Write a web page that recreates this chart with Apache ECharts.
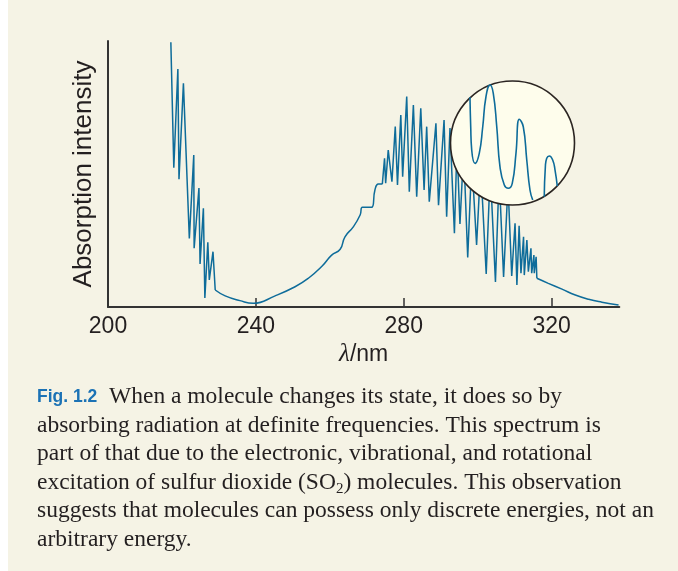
<!DOCTYPE html>
<html>
<head>
<meta charset="utf-8">
<script src="https://cdn.jsdelivr.net/npm/echarts@6/dist/echarts.min.js"></script>
<style>
  html, body { margin: 0; padding: 0; background: #fff; }
  #chart { width: 678px; height: 571px; }
</style>
</head>
<body>
<div id="chart"></div>
<script>
// SO2 absorption spectrum, [wavelength / nm, intensity 0-100]
const uvEdge = [
  [217.0, 99.5], [217.8, 52.4], [218.9, 89.5], [219.2, 48.0], [220.4, 84.1],
  [222.0, 25.8], [223.2, 57.1], [223.3, 22.1], [224.6, 44.7], [224.9, 16.2],
  [225.8, 37.1], [226.2, 3.4], [227.0, 24.3], [227.4, 10.2], [228.4, 20.8],
  [229.0, 6.4],
]
const valley = [
  [229.0, 6.4], [231.7, 4.2], [235.7, 2.4], [239.3, 1.4], [245.2, 4.2],
  [250.6, 7.6], [254.2, 10.8], [257.8, 15.2], [260.5, 19.5], [262.8, 21.7],
  [264.1, 26.4], [266.4, 30.2], [268.2, 34.6], [268.8, 37.5], [271.3, 37.5],
  [272.2, 44.0], [273.1, 46.2], [274.2, 46.2],
]
const band = [
  [274.2, 46.2], [274.8, 55.9], [275.1, 46.5], [275.8, 59.0], [276.8, 47.1],
  [277.7, 67.8], [278.3, 45.9], [279.2, 72.2], [279.7, 49.0], [280.8, 79.1],
  [281.5, 43.3], [282.6, 75.9], [283.5, 41.5], [284.6, 74.7], [285.5, 44.0],
  [286.2, 67.8], [286.9, 39.6], [288.7, 69.1], [289.4, 38.3], [290.9, 70.3],
  [291.6, 33.9], [292.5, 67.3], [293.7, 27.7], [294.4, 60.9], [295.2, 31.2],
  [296.2, 59.0], [297.3, 18.6], [298.4, 55.3], [299.7, 23.3], [300.8, 53.4],
  [302.3, 12.4], [303.4, 51.5], [304.8, 9.4], [305.8, 49.6], [307.0, 11.3],
  [308.2, 45.9], [309.2, 11.7], [310.1, 31.5], [310.6, 8.3], [311.2, 30.5],
  [311.7, 12.7], [312.4, 26.4], [312.6, 12.0], [313.3, 25.2], [313.7, 13.3],
  [314.4, 22.1], [314.6, 12.7], [315.2, 19.5], [315.3, 12.7], [315.8, 18.9],
  [316.0, 10.8],
]
const tail = [
  [316.0, 10.8], [319.1, 8.9], [322.8, 6.7], [326.4, 4.5], [330.0, 2.9],
  [333.6, 1.8], [338.1, 0.75],
]

// magnified detail shown in the circle, [u, v] on 0-100 inset scales
const zoomA = [
  [15.7, 86.9], [16.3, 63.1], [17.1, 44.4], [19.8, 33.6], [23.2, 41.7],
  [26.0, 63.1], [28.6, 87.3], [31.9, 96.8], [34.5, 90.1], [37.3, 63.1],
  [39.9, 30.9], [43.4, 16.1], [46.6, 13.5], [49.8, 17.5], [52.8, 41.7],
  [55.5, 69.1], [58.7, 63.1], [61.5, 36.3], [64.1, 12.1], [66.3, 4.0],
]
const zoomB = [
  [75.6, 6.7], [76.5, 30.9], [77.6, 37.7], [79.7, 39.5], [82.4, 36.3],
  [84.3, 28.2], [86.1, 15.3],
]

const xTicks = [200, 240, 280, 320]

const captionLines = [
  '{fig|Fig. 1.2}  When a molecule changes its state, it does so by',
  'absorbing radiation at definite frequencies. This spectrum is',
  'part of that due to the electronic, vibrational, and rotational',
  'excitation of sulfur dioxide (SO{sub|2}) molecules. This observation',
  'suggests that molecules can possess only discrete energies, not an',
  'arbitrary energy.',
]

const INK = '#231f20'
const BLUE = '#0e6c9a'
const SANS = '"Liberation Sans", Arial, sans-serif'
const SERIF = '"Liberation Serif", "Times New Roman", serif'

function trace(data, smooth) {
  return {
    type: 'line', data, smooth, symbol: 'none', clip: false, z: 2,
    lineStyle: { color: BLUE, width: 1.5 },
  }
}

function insetTrace(data) {
  return {
    type: 'line', data, smooth: true, symbol: 'none', clip: false, z: 20,
    xAxisIndex: 1, yAxisIndex: 1,
    lineStyle: { color: BLUE, width: 1.6 },
  }
}

const chart = echarts.init(document.getElementById('chart'))
chart.setOption({
  animation: false,
  backgroundColor: '#f5f3e5',
  title: {
    left: 37, top: 383, padding: 0,
    text: captionLines.join('\n'),
    textStyle: {
      fontFamily: SERIF, fontSize: 23.5, fontWeight: 'normal',
      color: INK, lineHeight: 28.5,
      rich: {
        fig: {
          fontFamily: SANS, fontWeight: 'bold', fontSize: 17.5,
          color: '#1b72b5', lineHeight: 28.5,
        },
        sub: {
          fontFamily: SERIF, fontSize: 15, color: INK,
          verticalAlign: 'bottom', lineHeight: 24,
        },
      },
    },
  },
  grid: [
    { left: 108, top: 41, width: 511.3, height: 266, outerBoundsMode: 'none' },
    { left: 450.5, top: 81, width: 124, height: 124, outerBoundsMode: 'none' },
  ],
  xAxis: [
    {
      type: 'value', min: 200, max: 338.3, interval: 40,
      splitLine: { show: false },
      axisLine: { lineStyle: { color: '#333', width: 2 } },
      axisTick: { inside: true, length: 9, customValues: xTicks, lineStyle: { color: '#333', width: 1.5 } },
      axisLabel: { customValues: xTicks, fontFamily: SANS, fontSize: 23, color: INK, margin: 8 },
      name: '{l|λ}/nm', nameLocation: 'middle', nameGap: 35,
      nameTextStyle: {
        fontFamily: SANS, fontSize: 23, color: INK,
        rich: { l: { fontFamily: SERIF, fontStyle: 'italic', fontSize: 25, color: INK } },
      },
    },
    { type: 'value', gridIndex: 1, min: 0, max: 100, show: false },
  ],
  yAxis: [
    {
      type: 'value', min: 0, max: 100,
      splitLine: { show: false }, axisTick: { show: false }, axisLabel: { show: false },
      axisLine: { show: true, lineStyle: { color: '#333', width: 2 } },
      name: 'Absorption intensity', nameLocation: 'middle', nameGap: 11,
      nameTextStyle: { fontFamily: SANS, fontSize: 26, color: INK },
    },
    { type: 'value', gridIndex: 1, min: 0, max: 100, show: false },
  ],
  graphic: [
    { type: 'rect', shape: { x: 0, y: 0, width: 8, height: 571 }, style: { fill: '#ffffff' }, z: 1 },
    {
      type: 'circle', shape: { cx: 512.5, cy: 143, r: 62 }, z: 10,
      style: { fill: '#fefdec', stroke: '#2b2522', lineWidth: 1.6 },
    },
  ],
  series: [
    trace(uvEdge, false),
    trace(valley, true),
    trace(band, false),
    trace(tail, true),
    insetTrace(zoomA),
    insetTrace(zoomB),
  ],
})
</script>
</body>
</html>
